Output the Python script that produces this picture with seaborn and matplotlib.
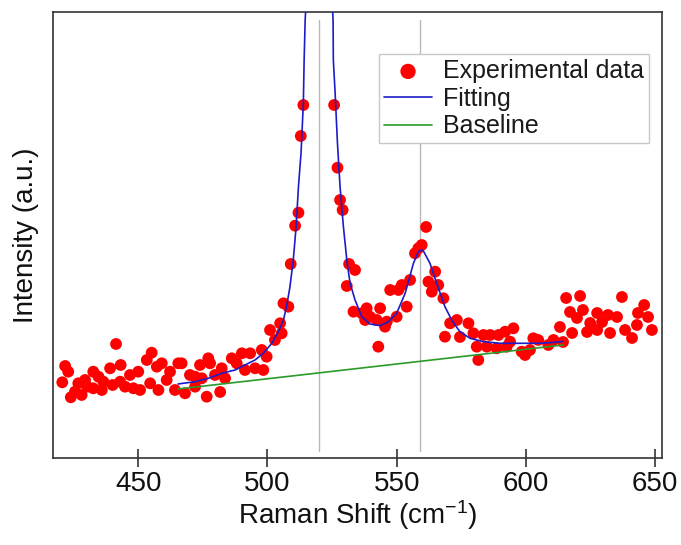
import seaborn as sns
import matplotlib.pyplot as plt

# Raman spectrum (intensity in arbitrary units)
shift_exp = [
    441.4, 421.7, 422.9, 420.6, 423.9, 425.5, 426.8, 429.4, 430.3, 432.6,
    434.6, 436.5, 435.9, 439.1, 440.1, 443.2, 443.0, 444.9, 446.8, 448.1,
    450.0, 450.7, 453.3, 455.2, 454.6, 457.2, 459.1, 457.8, 461.0, 462.3,
    464.2, 465.5, 428.1, 432.6,
    466.8, 473.9, 477.1, 477.8, 470.0, 472.0, 474.6, 468.1, 472.0, 476.5,
    479.7, 482.3, 483.6, 486.2, 488.1, 490.1, 493.3, 491.3, 495.2, 498.4,
    497.8, 499.7, 501.0, 502.9, 504.9, 505.5, 506.2, 508.1, 481.7,
    513.9, 512.9, 512.0, 510.7, 509.0, 525.8, 527.1, 528.1, 529.1, 531.6,
    533.9, 530.7,
    561.4, 558.4, 559.7, 557.1, 547.5, 550.7, 552.0, 555.2, 553.9, 533.3,
    536.5, 538.4, 539.7, 543.6, 542.3, 537.8, 546.2, 550.0, 545.5, 542.9,
    562.3, 564.9, 563.6, 566.1, 568.1, 570.7, 573.3, 568.7, 574.5,
    577.8, 579.7, 583.6, 586.2, 589.4, 592.0, 595.2, 581.0, 584.9, 588.7,
    592.6, 593.9, 598.4, 599.7, 602.9, 604.8, 608.7, 610.7, 581.6, 601.6,
    613.2, 614.4, 615.6, 617.1, 617.9, 619.8, 621.0, 622.1, 623.7, 624.9,
    627.6, 627.6, 629.5, 631.8, 632.6, 635.3, 637.2, 638.4, 641.1, 643.0,
    643.4, 645.8, 647.3, 648.8,
]
intensity_exp = [
    113.7, 91.7, 86.0, 75.4, 60.4, 66.0, 74.4, 77.7, 71.0, 86.0,
    81.0, 76.0, 67.7, 89.4, 72.7, 92.7, 76.0, 71.0, 82.7, 69.4,
    86.0, 67.7, 97.7, 105.0, 74.4, 91.0, 94.4, 67.7, 77.7, 86.0,
    67.7, 94.4, 62.7, 69.4,
    94.4, 92.7, 99.4, 94.4, 82.7, 81.0, 79.4, 64.4, 71.0, 61.0,
    82.7, 89.4, 79.4, 99.4, 94.4, 104.4, 104.4, 87.7, 89.4, 87.7,
    107.7, 101.0, 127.7, 117.7, 134.4, 124.4, 154.4, 151.0, 65.7,
    352.7, 321.7, 245.0, 232.0, 193.7, 352.7, 290.0, 257.7, 247.7, 193.7,
    187.7, 171.7,
    230.7, 209.4, 212.7, 204.4, 167.7, 167.7, 172.7, 177.7, 151.0, 146.0,
    144.4, 149.4, 141.0, 149.4, 137.7, 137.7, 136.0, 141.0, 131.0, 111.0,
    176.0, 186.0, 166.0, 172.7, 159.4, 134.4, 137.7, 121.0, 120.7,
    134.4, 124.4, 122.7, 122.7, 122.7, 126.0, 129.4, 111.0, 111.0, 109.4,
    111.0, 116.0, 106.0, 102.7, 119.4, 117.7, 112.7, 117.7, 97.7, 107.7,
    130.7, 115.7, 159.7, 145.7, 124.7, 139.7, 161.7, 147.7, 125.7, 134.7,
    144.7, 127.7, 135.7, 142.7, 124.7, 140.7, 160.7, 127.7, 119.7, 132.7,
    144.7, 152.7, 140.7, 127.7,
]

# fitted curve (the main peak runs off the top)
shift_fit = [
    465.4, 472.0, 477.1, 482.3, 487.5, 491.3, 495.2, 498.4, 501.7, 504.2,
    506.2, 507.5, 508.7, 510.0, 511.1, 512.0, 513.0, 513.9, 514.2, 514.6,
    520.0,
    525.4, 525.5, 526.2, 527.1, 528.1, 529.4, 530.8, 532.0, 533.9, 536.5,
    539.7, 543.6, 546.8, 550.0, 553.3, 556.5, 558.4, 559.5, 560.3, 562.9,
    565.5, 568.7, 571.5, 574.5, 578.4, 583.6, 590.0, 596.5, 604.2, 609.4,
    614.4,
]
intensity_fit = [
    73.7, 76.0, 79.4, 84.4, 87.7, 92.7, 97.7, 104.4, 114.4, 126.0,
    137.7, 152.7, 170.7, 197.7, 231.0, 271.0, 304.7, 354.7, 397.7, 437.7,
    700.0,
    437.7, 397.7, 364.4, 314.4, 271.0, 231.0, 195.7, 174.4, 157.7, 141.0,
    133.7, 132.0, 136.0, 144.4, 164.4, 194.4, 206.0, 207.7, 207.0, 194.4,
    174.4, 151.0, 136.7, 126.0, 119.4, 116.0, 114.4, 114.4, 114.4, 115.0,
    116.2,
]

shift_base = [465.4, 614.4]
intensity_base = [68.7, 112.7]

peak_positions = [520, 559]

sns.set_style("white")
plt.rcParams["font.family"] = ["Liberation Sans", "DejaVu Sans"]
plt.rcParams["mathtext.fontset"] = "custom"
plt.rcParams["mathtext.rm"] = "Liberation Sans"
plt.rcParams["mathtext.default"] = "regular"

fig = plt.figure(figsize=(6.81, 5.45), dpi=100)
ax = fig.add_axes([0.0778, 0.1602, 0.8943, 0.8178])

for p in peak_positions:
    ax.axvline(p, ymin=0.016, ymax=0.982, color="#b8b8b8", lw=1, zorder=1)

sns.scatterplot(x=shift_exp, y=intensity_exp, color="red", s=72,
                edgecolor="none", label="Experimental data", ax=ax, zorder=2)
sns.lineplot(x=shift_fit, y=intensity_fit, color="#1c1cc8", lw=1.2,
             sort=False, estimator=None, label="Fitting", ax=ax, zorder=3)
sns.lineplot(x=shift_base, y=intensity_base, color="#2a9a2a", lw=1.2,
             sort=False, estimator=None, label="Baseline", ax=ax, zorder=3)

ax.set_xlim(417.0, 652.7)
ax.set_ylim(0, 445.7)
ax.set_xticks([450, 500, 550, 600, 650])
ax.set_yticks([])
ax.tick_params(axis="x", bottom=True, direction="inout", length=13, width=1.1,
               color="#222222", labelsize=20, labelcolor="#111111", pad=3)

for s in ax.spines.values():
    s.set_color("#333333")
    s.set_linewidth(1.2)

ax.set_xlabel("Raman Shift (cm$^{-1}$)", fontsize=20, color="#111111", labelpad=1)
ax.set_ylabel("Intensity (a.u.)", fontsize=20, color="#111111", labelpad=10)

leg = ax.legend(loc="upper right", bbox_to_anchor=(0.9787, 0.9058),
                frameon=True, fancybox=False, edgecolor="#c8c8c8", framealpha=1,
                fontsize=18, handlelength=1.9, handletextpad=0.45,
                labelspacing=0.15, borderpad=0.2, borderaxespad=0, markerscale=1.3)
leg.get_frame().set_linewidth(1)
for t in leg.get_texts():
    t.set_color("#1a1a1a")

fig.savefig("out.png", dpi=100)
